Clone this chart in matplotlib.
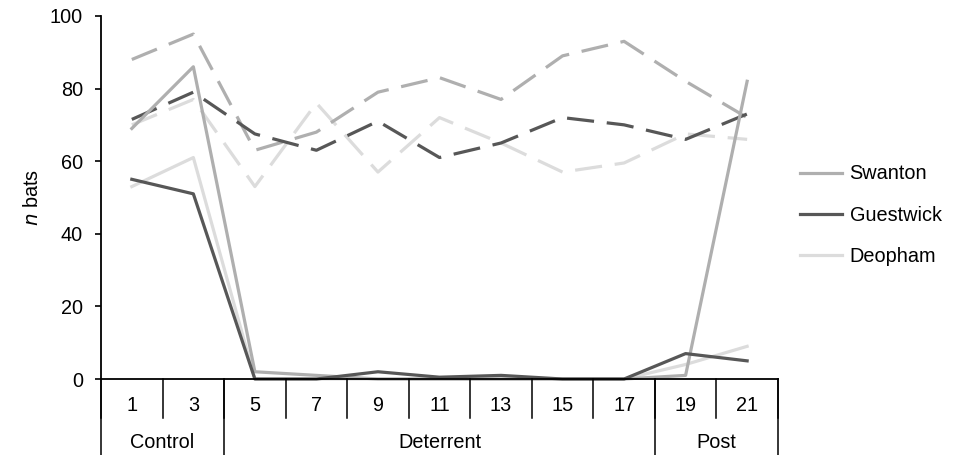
import numpy as np
import matplotlib.pyplot as plt
from matplotlib.lines import Line2D

plt.rcParams['font.family'] = ['Liberation Sans', 'DejaVu Sans']

weeks = ['1', '3', '5', '7', '9', '11', '13', '15', '17', '19', '21']
groups = ['Control', 'Deterrent', 'Post']
group_sizes = [2, 7, 2]

# solid lines
swanton_solid = [69, 86, 2, 1, 0, 0, 0, 0, 0, 1, 82]
guestwick_solid = [55, 51, 0, 0, 2, 0.5, 1, 0, 0, 7, 5]
deopham_solid = [53, 61, 0, 0, 0, 0, 0, 0, 0, 4, 9]
# dashed lines
swanton_dash = [88, 95, 63, 68, 79, 83, 77, 89, 93, 82, 72]
guestwick_dash = [71.5, 79, 67.5, 63, 71, 61, 65, 72, 70, 66, 73]
deopham_dash = [70, 77, 53, 76, 57, 72, 65, 57, 59.5, 67.5, 66]

sites = ['Swanton', 'Guestwick', 'Deopham']
colors = ['#AFAFAF', '#575757', '#DCDCDC']
fs = 14.3

fig = plt.figure(figsize=(9.56, 4.55), dpi=100)
ax = fig.add_axes([0.1057, 0.167, 0.708, 0.798])

x = np.arange(len(weeks))
lw = 2.3
solids = [swanton_solid, guestwick_solid, deopham_solid]
dashes = [swanton_dash, guestwick_dash, deopham_dash]
order = [2, 0, 1]
for i in order:
    ax.plot(x, dashes[i], color=colors[i], lw=lw, dashes=(8.5, 4),
            solid_joinstyle='miter', clip_on=False)
for i in order:
    ax.plot(x, solids[i], color=colors[i], lw=lw, clip_on=False)

ax.set_xlim(-0.5, len(weeks) - 0.5)
ax.set_ylim(0, 100)
ax.set_yticks(range(0, 101, 20))
ax.tick_params(axis='y', direction='out', length=4, width=1.2, labelsize=fs,
               pad=9)
ax.set_xticks([])
for s in ['top', 'right']:
    ax.spines[s].set_visible(False)
ax.spines['left'].set_linewidth(1.3)
ax.spines['bottom'].set_linewidth(1.3)
ax.set_ylabel('$n$ bats', fontsize=fs, labelpad=6)

# category table under the axis
tr = ax.get_xaxis_transform()
for i in range(len(weeks) + 1):
    ax.plot([i - 0.5, i - 0.5], [0, -0.107], color='black', lw=1.1,
            transform=tr, clip_on=False)
    if i < len(weeks):
        ax.text(i, -0.072, weeks[i], transform=tr, ha='center', va='center',
                fontsize=fs)
start = 0
bounds = [0]
for g, n in zip(groups, group_sizes):
    ax.text(start + n / 2 - 0.5, -0.174, g, transform=tr, ha='center',
            va='center', fontsize=fs)
    start += n
    bounds.append(start)
for b in bounds:
    ax.plot([b - 0.5, b - 0.5], [0, -0.215], color='black', lw=1.1,
            transform=tr, clip_on=False)

handles = [Line2D([], [], color=c, lw=lw) for c in colors]
fig.legend(handles, sites, loc='center left', bbox_to_anchor=(0.818, 0.527),
           frameon=False, fontsize=fs, handlelength=2.1, handletextpad=0.4,
           labelspacing=1.12)

fig.savefig('out.png', dpi=100)
